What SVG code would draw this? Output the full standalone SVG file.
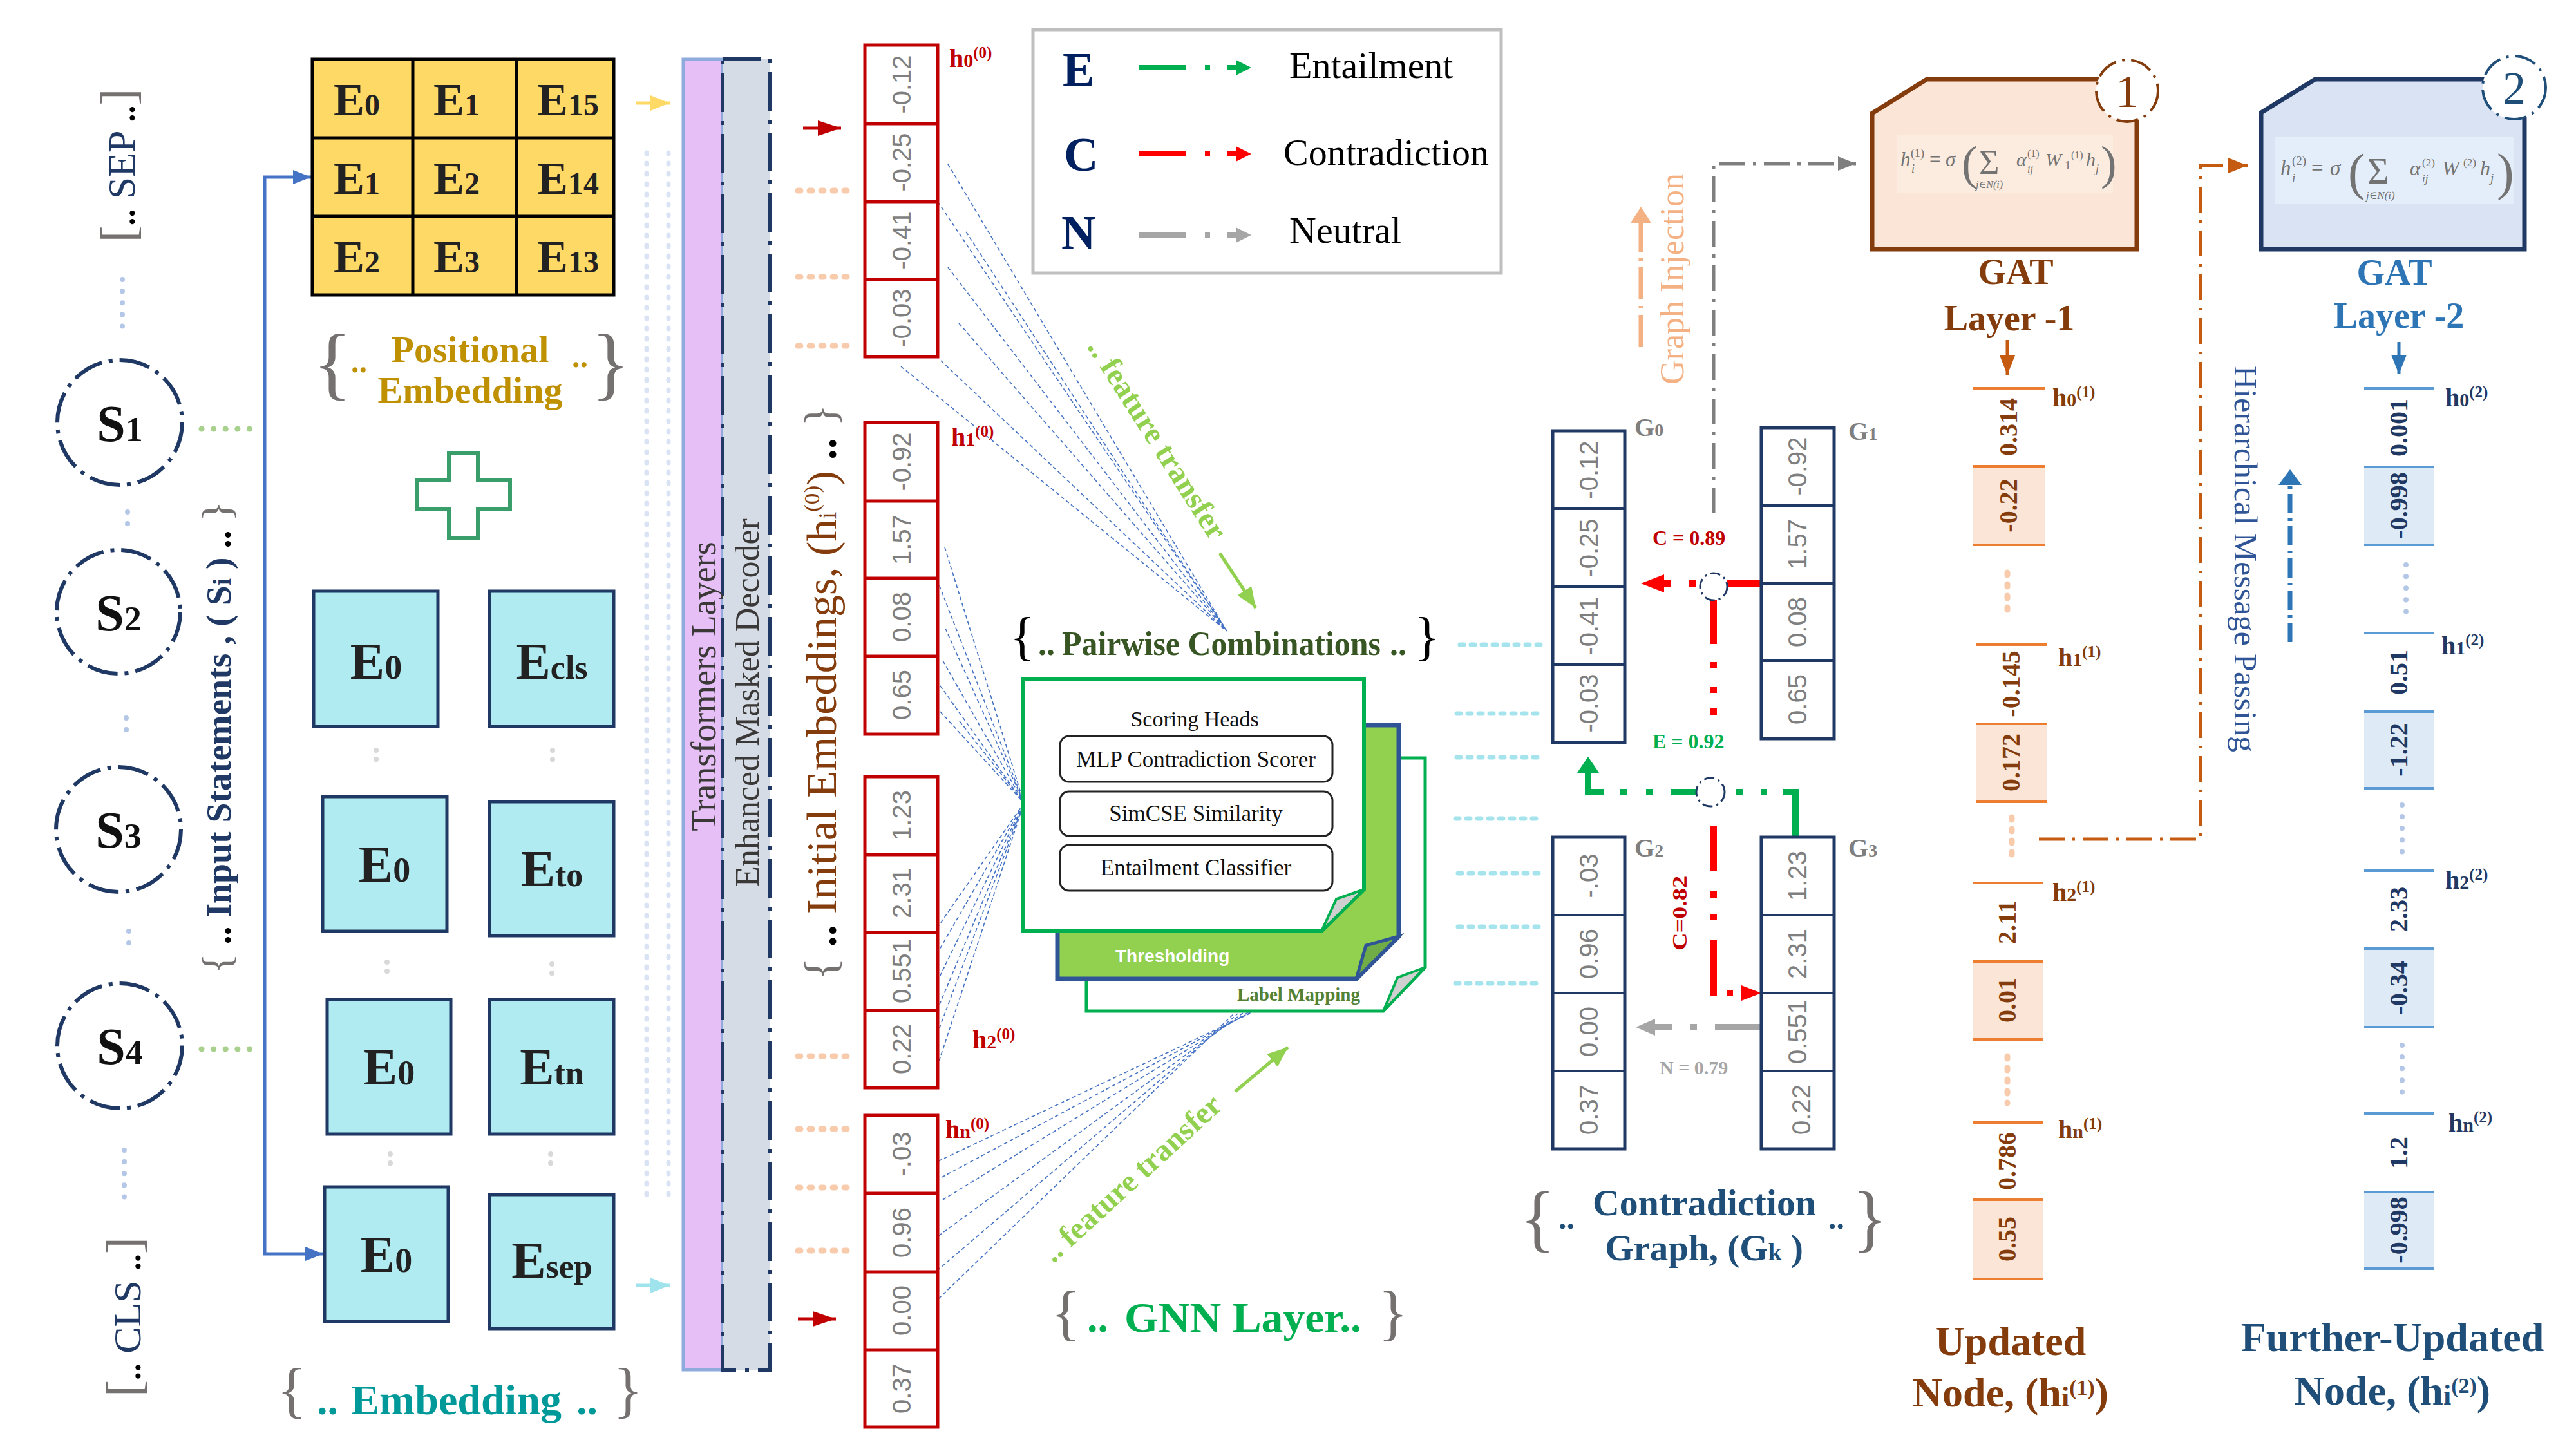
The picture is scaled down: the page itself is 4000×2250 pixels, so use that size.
<svg xmlns="http://www.w3.org/2000/svg" width="4000" height="2250" viewBox="0 0 4000 2250">
<style>
text{font-family:"Liberation Serif","DejaVu Serif",serif}
.b{font-weight:bold}
.num{font-family:"Liberation Sans","DejaVu Sans",sans-serif;fill:#7F7F7F;font-size:40px}
.br{fill:#767171;font-weight:normal}
.blk{fill:#000;font-weight:bold}
.snode{fill:#fff;stroke:#1F3864;stroke-width:6;stroke-dasharray:48 11 6 11}
.stxt{font-weight:bold;font-size:80px;fill:#111}
.ycell{font-weight:bold;font-size:72px;fill:#222}
.emb{fill:#AFEBF1;stroke:#1F3864;stroke-width:5}
.etxt{font-weight:bold;font-size:80px;fill:#222}
.rcell{fill:#fff;stroke:#C00000;stroke-width:5}
.gcell{fill:#fff;stroke:#1F3864;stroke-width:5}
.dv{fill:none;stroke:#B4C7E7;stroke-width:8;stroke-linecap:round;stroke-dasharray:0.1 18}
.dg{fill:none;stroke:#A9D18E;stroke-width:9;stroke-linecap:round;stroke-dasharray:0.1 18.5}
.dp{fill:none;stroke:#F8CBAD;stroke-width:9;stroke-linecap:round;stroke-dasharray:4 14}
.dc{fill:none;stroke:#A5E4EC;stroke-width:7;stroke-linecap:round;stroke-dasharray:6 11}
.dl{fill:none;stroke:#DAE3F3;stroke-width:7;stroke-linecap:round;stroke-dasharray:2 14}
.dgr{fill:none;stroke:#D9D9D9;stroke-width:8;stroke-linecap:round;stroke-dasharray:0.1 14}
.fan{fill:none;stroke:#4472C4;stroke-width:1.6;stroke-dasharray:6 4}
.hr{fill:#C00000;font-weight:bold}
.hb{fill:#843C0C;font-weight:bold}
.hn{fill:#1F3864;font-weight:bold}
.ol{stroke:#ED7D31;stroke-width:4}
.bl{stroke:#5B9BD5;stroke-width:4}
.vb{font-weight:bold;font-size:40px;fill:#843C0C}
.vn{font-weight:bold;font-size:40px;fill:#1F3864}
.gl{fill:#7F7F7F;font-weight:bold}
.fml{fill:#737373;font-style:italic}
.red{stroke:#FF0000;stroke-width:10;fill:none}
.grn{stroke:#00B050;stroke-width:10;fill:none}
.gry{stroke:#A6A6A6;stroke-width:10;fill:none}
</style>
<defs>
<marker id="mBlue" viewBox="0 0 10 10" refX="10" refY="5" markerWidth="28" markerHeight="22" markerUnits="userSpaceOnUse" orient="auto" preserveAspectRatio="none"><path d="M0,0 L10,5 L0,10 z" fill="#4472C4"/></marker>
<marker id="mYellow" viewBox="0 0 10 10" refX="10" refY="5" markerWidth="30" markerHeight="24" markerUnits="userSpaceOnUse" orient="auto" preserveAspectRatio="none"><path d="M0,0 L10,5 L0,10 z" fill="#FFD966"/></marker>
<marker id="mCyan" viewBox="0 0 10 10" refX="10" refY="5" markerWidth="30" markerHeight="24" markerUnits="userSpaceOnUse" orient="auto" preserveAspectRatio="none"><path d="M0,0 L10,5 L0,10 z" fill="#9FE3EC"/></marker>
<marker id="mRed" viewBox="0 0 10 10" refX="10" refY="5" markerWidth="36" markerHeight="24" markerUnits="userSpaceOnUse" orient="auto" preserveAspectRatio="none"><path d="M0,0 L10,5 L0,10 z" fill="#C00000"/></marker>
<marker id="mLGreen" viewBox="0 0 10 10" refX="10" refY="5" markerWidth="32" markerHeight="26" markerUnits="userSpaceOnUse" orient="auto" preserveAspectRatio="none"><path d="M0,0 L10,5 L0,10 z" fill="#92D050"/></marker>
<marker id="mOrange" viewBox="0 0 10 10" refX="10" refY="5" markerWidth="30" markerHeight="24" markerUnits="userSpaceOnUse" orient="auto" preserveAspectRatio="none"><path d="M0,0 L10,5 L0,10 z" fill="#C55A11"/></marker>
<marker id="mSteel" viewBox="0 0 10 10" refX="10" refY="5" markerWidth="30" markerHeight="24" markerUnits="userSpaceOnUse" orient="auto" preserveAspectRatio="none"><path d="M0,0 L10,5 L0,10 z" fill="#2E75B6"/></marker>
<marker id="mGray" viewBox="0 0 10 10" refX="10" refY="5" markerWidth="28" markerHeight="22" markerUnits="userSpaceOnUse" orient="auto" preserveAspectRatio="none"><path d="M0,0 L10,5 L0,10 z" fill="#7F7F7F"/></marker>
</defs>
<rect width="4000" height="2250" fill="#fff"/>

<!-- ===== connectors ===== -->
<g id="connectors">
  <line class="dv" x1="190" y1="434" x2="190" y2="510"/>
  <line class="dv" x1="198" y1="795" x2="198" y2="815"/>
  <line class="dv" x1="196" y1="1115" x2="196" y2="1138"/>
  <line class="dv" x1="200" y1="1446" x2="200" y2="1470"/>
  <line class="dv" x1="193" y1="1786" x2="193" y2="1862"/>
  <line class="dg" x1="313" y1="666" x2="390" y2="666"/>
  <line class="dg" x1="313" y1="1629" x2="390" y2="1629"/>
  <path d="M411,1100 V275 H483" fill="none" stroke="#4472C4" stroke-width="5" marker-end="url(#mBlue)"/>
  <path d="M411,1100 V1947 H502" fill="none" stroke="#4472C4" stroke-width="5" marker-end="url(#mBlue)"/>
  <line class="dgr" x1="584" y1="1165" x2="584" y2="1187"/>
  <line class="dgr" x1="858" y1="1165" x2="858" y2="1187"/>
  <line class="dgr" x1="601" y1="1494" x2="601" y2="1516"/>
  <line class="dgr" x1="857" y1="1497" x2="857" y2="1519"/>
  <line class="dgr" x1="606" y1="1792" x2="606" y2="1814"/>
  <line class="dgr" x1="855" y1="1792" x2="855" y2="1814"/>
  <line class="dl" x1="1004" y1="237" x2="1004" y2="1862"/>
  <line class="dl" x1="1038" y1="237" x2="1038" y2="1862"/>
  <line x1="987" y1="160" x2="1040" y2="160" stroke="#FFD966" stroke-width="5" marker-end="url(#mYellow)"/>
  <line x1="987" y1="1996" x2="1040" y2="1996" stroke="#9FE3EC" stroke-width="5" marker-end="url(#mCyan)"/>
  <line x1="1247" y1="199" x2="1306" y2="199" stroke="#C00000" stroke-width="5" marker-end="url(#mRed)"/>
  <line x1="1239" y1="2048" x2="1298" y2="2048" stroke="#C00000" stroke-width="5" marker-end="url(#mRed)"/>
  <line class="dp" x1="1239" y1="296" x2="1315" y2="296"/>
  <line class="dp" x1="1239" y1="430" x2="1315" y2="430"/>
  <line class="dp" x1="1239" y1="537" x2="1315" y2="537"/>
  <line class="dp" x1="1239" y1="1640" x2="1315" y2="1640"/>
  <line class="dp" x1="1239" y1="1753" x2="1315" y2="1753"/>
  <line class="dp" x1="1239" y1="1844" x2="1315" y2="1844"/>
  <line class="dp" x1="1239" y1="1942" x2="1315" y2="1942"/>
  <path class="fan" d="M1472,255 L1905,980 M1456,313 L1905,980 M1500,360 L1905,980 M1472,415 L1905,980 M1489,502 L1905,980 M1461,560 L1905,980 M1399,569 L1905,980"/>
  <path class="fan" d="M1467,850 L1590,1247 M1455,900 L1590,1247 M1468,976 L1590,1247 M1464,1026 L1590,1247 M1460,1065 L1590,1247 M1460,1105 L1590,1247 M1490,1120 L1590,1247 M1455,1441 L1590,1247 M1455,1481 L1590,1247 M1455,1525 L1590,1247 M1455,1569 L1590,1247 M1455,1606 L1590,1247 M1455,1657 L1590,1247"/>
  <path class="fan" d="M1457,1803 L1953,1568 M1453,1833 L1945,1570 M1464,1863 L1938,1572 M1449,1925 L1930,1573 M1455,1973 L1922,1574 M1457,2017 L1915,1575"/>
  <line x1="1894" y1="859" x2="1950" y2="944" stroke="#92D050" stroke-width="5" marker-end="url(#mLGreen)"/>
  <line x1="1918" y1="1695" x2="2000" y2="1626" stroke="#92D050" stroke-width="5" marker-end="url(#mLGreen)"/>
  <line class="dc" x1="2267" y1="1001" x2="2397" y2="1001"/>
  <line class="dc" x1="2262" y1="1108" x2="2392" y2="1108"/>
  <line class="dc" x1="2262" y1="1176" x2="2392" y2="1176"/>
  <line class="dc" x1="2260" y1="1271" x2="2390" y2="1271"/>
  <line class="dc" x1="2264" y1="1356" x2="2394" y2="1356"/>
  <line class="dc" x1="2264" y1="1439" x2="2394" y2="1439"/>
  <line class="dc" x1="2260" y1="1527" x2="2390" y2="1527"/>
  <path d="M2661,797 V254 H2882" fill="none" stroke="#7F7F7F" stroke-width="5" stroke-dasharray="40 12 5 12" marker-end="url(#mGray)"/>
  <line x1="2548" y1="539" x2="2548" y2="345" stroke="#F4B183" stroke-width="7" stroke-dasharray="50 10 4 10"/>
  <polygon points="2532,346 2564,346 2548,321" fill="#F4B183"/>
  <line class="red" x1="2681" y1="906" x2="2735" y2="906"/>
  <line class="red" x1="2623" y1="906" x2="2633" y2="906"/>
  <line class="red" x1="2580" y1="906" x2="2595" y2="906"/>
  <polygon points="2548,906 2584,892 2584,920" fill="#FF0000"/>
  <line class="red" x1="2661" y1="930" x2="2661" y2="1000" stroke-width="12"/>
  <line class="red" x1="2661" y1="1028" x2="2661" y2="1038" stroke-width="12"/>
  <line class="red" x1="2661" y1="1066" x2="2661" y2="1076" stroke-width="12"/>
  <line class="red" x1="2661" y1="1100" x2="2661" y2="1110" stroke-width="12"/>
  <line class="red" x1="2661" y1="1283" x2="2661" y2="1353" stroke-width="12"/>
  <line class="red" x1="2661" y1="1384" x2="2661" y2="1394" stroke-width="12"/>
  <line class="red" x1="2661" y1="1419" x2="2661" y2="1429" stroke-width="12"/>
  <line class="red" x1="2661" y1="1459" x2="2661" y2="1547" stroke-width="12"/>
  <line class="red" x1="2681" y1="1542" x2="2691" y2="1542"/>
  <polygon points="2735,1542 2704,1530 2704,1554" fill="#FF0000"/>
  <line class="grn" x1="2788" y1="1302" x2="2788" y2="1225" stroke-width="12"/>
  <line class="grn" x1="2794" y1="1230" x2="2768" y2="1230"/>
  <line class="grn" x1="2734" y1="1230" x2="2744" y2="1230"/>
  <line class="grn" x1="2696" y1="1230" x2="2706" y2="1230"/>
  <line class="grn" x1="2594" y1="1230" x2="2640" y2="1230"/>
  <line class="grn" x1="2556" y1="1230" x2="2566" y2="1230"/>
  <line class="grn" x1="2516" y1="1230" x2="2526" y2="1230"/>
  <path class="grn" d="M2490,1230 H2466 V1198"/>
  <polygon points="2449,1200 2483,1200 2466,1175" fill="#00B050"/>
  <line class="gry" x1="2663" y1="1595" x2="2737" y2="1595"/>
  <line class="gry" x1="2625" y1="1595" x2="2635" y2="1595"/>
  <line class="gry" x1="2566" y1="1595" x2="2596" y2="1595"/>
  <polygon points="2540,1595 2570,1582 2570,1608" fill="#A6A6A6"/>
  <circle cx="2661" cy="911" r="21" fill="#fff" stroke="#1F3864" stroke-width="3" stroke-dasharray="16 6 3 6"/>
  <circle cx="2656" cy="1230" r="22" fill="#fff" stroke="#1F3864" stroke-width="3" stroke-dasharray="16 6 3 6"/>
  <path d="M3166,1303 H3417 V257 H3490" fill="none" stroke="#C55A11" stroke-width="5" stroke-dasharray="40 12 4 12" marker-end="url(#mOrange)"/>
  <line x1="3117" y1="528" x2="3117" y2="582" stroke="#C55A11" stroke-width="5" marker-end="url(#mOrange)"/>
  <line x1="3725" y1="531" x2="3725" y2="581" stroke="#2E75B6" stroke-width="5" marker-end="url(#mSteel)"/>
  <line x1="3556" y1="997" x2="3556" y2="752" stroke="#2E75B6" stroke-width="7" stroke-dasharray="30 8 4 8"/>
  <polygon points="3538,753 3574,753 3556,729" fill="#2E75B6"/>
  <line x1="3117" y1="889" x2="3117" y2="961" class="dp" stroke-dasharray="0.1 18"/>
  <line x1="3124" y1="1269" x2="3124" y2="1339" class="dp" stroke-dasharray="0.1 18"/>
  <line x1="3117" y1="1640" x2="3117" y2="1713" class="dp" stroke-dasharray="0.1 18"/>
  <line x1="3736" y1="877" x2="3736" y2="954" class="dv"/>
  <line x1="3730" y1="1250" x2="3730" y2="1327" class="dv"/>
  <line x1="3730" y1="1623" x2="3730" y2="1700" class="dv"/>
</g>

<!-- ===== input statements ===== -->
<g id="sep-token">
  <text transform="translate(209,257) rotate(-90)" text-anchor="middle" font-size="60" textLength="239" lengthAdjust="spacingAndGlyphs"><tspan class="br" font-size="76">[</tspan><tspan class="blk" font-size="50">..</tspan><tspan fill="#1F3864"> SEP </tspan><tspan class="blk" font-size="50">..</tspan><tspan class="br" font-size="76">]</tspan></text>
</g>
<g id="s1"><circle cx="186" cy="656" r="97" class="snode"/><text x="186" y="685" text-anchor="middle" class="stxt">S<tspan font-size="54">1</tspan></text></g>
<g id="s2"><circle cx="184" cy="950" r="96" class="snode"/><text x="184" y="979" text-anchor="middle" class="stxt">S<tspan font-size="54">2</tspan></text></g>
<g id="s3"><circle cx="184" cy="1288" r="97" class="snode"/><text x="184" y="1316" text-anchor="middle" class="stxt">S<tspan font-size="54">3</tspan></text></g>
<g id="s4"><circle cx="186" cy="1624" r="97" class="snode"/><text x="186" y="1652" text-anchor="middle" class="stxt">S<tspan font-size="54">4</tspan></text></g>
<g id="cls-token">
  <text transform="translate(218,2045) rotate(-90)" text-anchor="middle" font-size="60" textLength="248" lengthAdjust="spacingAndGlyphs"><tspan class="br" font-size="76">[</tspan><tspan class="blk" font-size="50">..</tspan><tspan fill="#1F3864"> CLS </tspan><tspan class="blk" font-size="50">..</tspan><tspan class="br" font-size="76">]</tspan></text>
</g>
<g id="input-label">
  <text transform="translate(358,1145) rotate(-90)" text-anchor="middle" font-size="54" class="b" textLength="734" lengthAdjust="spacingAndGlyphs"><tspan class="br" font-size="64">{</tspan><tspan fill="#000"> .. </tspan><tspan fill="#1F3864">Input Statements , ( S<tspan font-size="40">i</tspan> ) </tspan><tspan fill="#000">.. </tspan><tspan class="br" font-size="64">}</tspan></text>
</g>

<!-- ===== positional embedding ===== -->
<g id="positional-grid">
  <rect x="485" y="92" width="468" height="366" fill="#FFD966" stroke="#000" stroke-width="5"/>
  <path d="M641,92 V458 M802,92 V458 M485,214 H953 M485,336 H953" stroke="#000" stroke-width="5"/>
  <text x="518" y="179" class="ycell">E<tspan font-size="48">0</tspan></text>
  <text x="673" y="179" class="ycell">E<tspan font-size="48">1</tspan></text>
  <text x="834" y="179" class="ycell">E<tspan font-size="48">15</tspan></text>
  <text x="518" y="301" class="ycell">E<tspan font-size="48">1</tspan></text>
  <text x="673" y="301" class="ycell">E<tspan font-size="48">2</tspan></text>
  <text x="834" y="301" class="ycell">E<tspan font-size="48">14</tspan></text>
  <text x="518" y="423" class="ycell">E<tspan font-size="48">2</tspan></text>
  <text x="673" y="423" class="ycell">E<tspan font-size="48">3</tspan></text>
  <text x="834" y="423" class="ycell">E<tspan font-size="48">13</tspan></text>
</g>
<g id="positional-label">
  <text x="486" y="605" class="br" font-size="125">{</text>
  <text x="918" y="605" class="br" font-size="125">}</text>
  <text x="545" y="578" font-size="50" class="b" fill="#BF9000">..</text>
  <text x="888" y="570" font-size="50" class="b" fill="#BF9000">..</text>
  <text x="730" y="562" text-anchor="middle" font-size="58" class="b" fill="#BF9000">Positional</text>
  <text x="730" y="625" text-anchor="middle" font-size="58" class="b" fill="#BF9000">Embedding</text>
</g>
<g id="plus">
  <polygon points="697,703 742,703 742,746 792,746 792,790 742,790 742,836 697,836 697,790 647,790 647,746 697,746" fill="#fff" stroke="#3A9E6B" stroke-width="6"/>
</g>

<!-- ===== token embeddings ===== -->
<g id="emb-e0-a"><rect x="487" y="918" width="193" height="210" class="emb"/><text x="584" y="1054" text-anchor="middle" class="etxt">E<tspan font-size="54">0</tspan></text></g>
<g id="emb-ecls"><rect x="760" y="918" width="193" height="210" class="emb"/><text x="857" y="1054" text-anchor="middle" class="etxt">E<tspan font-size="52">cls</tspan></text></g>
<g id="emb-e0-b"><rect x="501" y="1237" width="193" height="209" class="emb"/><text x="597" y="1369" text-anchor="middle" class="etxt">E<tspan font-size="54">0</tspan></text></g>
<g id="emb-eto"><rect x="760" y="1245" width="193" height="208" class="emb"/><text x="857" y="1376" text-anchor="middle" class="etxt">E<tspan font-size="52">to</tspan></text></g>
<g id="emb-e0-c"><rect x="508" y="1552" width="192" height="209" class="emb"/><text x="604" y="1684" text-anchor="middle" class="etxt">E<tspan font-size="54">0</tspan></text></g>
<g id="emb-etn"><rect x="760" y="1552" width="193" height="209" class="emb"/><text x="857" y="1684" text-anchor="middle" class="etxt">E<tspan font-size="52">tn</tspan></text></g>
<g id="emb-e0-d"><rect x="504" y="1843" width="192" height="209" class="emb"/><text x="600" y="1975" text-anchor="middle" class="etxt">E<tspan font-size="54">0</tspan></text></g>
<g id="emb-esep"><rect x="760" y="1855" width="193" height="208" class="emb"/><text x="857" y="1984" text-anchor="middle" class="etxt">E<tspan font-size="52">sep</tspan></text></g>
<g id="embedding-label">
  <text x="430" y="2190" class="br" font-size="96">{</text>
  <text x="952" y="2190" class="br" font-size="96">}</text>
  <text x="492" y="2196" font-size="66" class="b" fill="#009999">..</text>
  <text x="545" y="2196" font-size="66" class="b" fill="#009999" textLength="327" lengthAdjust="spacingAndGlyphs">Embedding</text>
  <text x="895" y="2196" font-size="66" class="b" fill="#009999">..</text>
</g>

<!-- ===== transformer bar ===== -->
<g id="transformer">
  <rect x="1061" y="92" width="61" height="2035" fill="#E5BFF5" stroke="#8FAADC" stroke-width="5"/>
  <rect x="1122" y="92" width="74" height="2035" fill="#D6DCE5" stroke="#1F3864" stroke-width="6" stroke-dasharray="60 14 6 14"/>
  <text transform="translate(1111,1066) rotate(-90)" text-anchor="middle" font-size="54" fill="#3B3838">Transformers Layers</text>
  <text transform="translate(1178,1091) rotate(-90)" text-anchor="middle" font-size="52" fill="#3B3838">Enhanced Masked Decoder</text>
</g>

<!-- ===== initial embeddings ===== -->
<g id="init-label">
  <text transform="translate(1298,1075) rotate(-90)" text-anchor="middle" font-size="66" fill="#843C0C" textLength="894" lengthAdjust="spacingAndGlyphs"><tspan class="br" font-size="70">{</tspan><tspan class="blk"> .. </tspan><tspan>Initial Embeddings, (h<tspan font-size="40">i</tspan><tspan font-size="34" dy="-26">(0)</tspan><tspan dy="26">)</tspan></tspan><tspan class="blk"> .. </tspan><tspan class="br" font-size="70">}</tspan></text>
</g>
<g id="h0-0">
  <rect x="1343" y="70" width="113" height="484" class="rcell"/>
  <path d="M1343,192 H1456 M1343,313 H1456 M1343,434 H1456" stroke="#C00000" stroke-width="5"/>
  <text transform="translate(1400,131) rotate(-90)" x="0" y="14" text-anchor="middle" class="num">-0.12</text>
  <text transform="translate(1400,252) rotate(-90)" x="0" y="14" text-anchor="middle" class="num">-0.25</text>
  <text transform="translate(1400,373) rotate(-90)" x="0" y="14" text-anchor="middle" class="num">-0.41</text>
  <text transform="translate(1400,494) rotate(-90)" x="0" y="14" text-anchor="middle" class="num">-0.03</text>
  <text x="1474" y="104" class="hr" font-size="40">h<tspan font-size="30">0</tspan><tspan font-size="25" dy="-14">(0)</tspan></text>
</g>
<g id="h1-0">
  <rect x="1343" y="656" width="113" height="484" class="rcell"/>
  <path d="M1343,778 H1456 M1343,898 H1456 M1343,1019 H1456" stroke="#C00000" stroke-width="5"/>
  <text transform="translate(1400,717) rotate(-90)" x="0" y="14" text-anchor="middle" class="num">-0.92</text>
  <text transform="translate(1400,838) rotate(-90)" x="0" y="14" text-anchor="middle" class="num">1.57</text>
  <text transform="translate(1400,958) rotate(-90)" x="0" y="14" text-anchor="middle" class="num">0.08</text>
  <text transform="translate(1400,1079) rotate(-90)" x="0" y="14" text-anchor="middle" class="num">0.65</text>
  <text x="1477" y="692" class="hr" font-size="40">h<tspan font-size="30">1</tspan><tspan font-size="25" dy="-14">(0)</tspan></text>
</g>
<g id="h2-0">
  <rect x="1343" y="1206" width="113" height="483" class="rcell"/>
  <path d="M1343,1327 H1456 M1343,1448 H1456 M1343,1569 H1456" stroke="#C00000" stroke-width="5"/>
  <text transform="translate(1400,1266) rotate(-90)" x="0" y="14" text-anchor="middle" class="num">1.23</text>
  <text transform="translate(1400,1387) rotate(-90)" x="0" y="14" text-anchor="middle" class="num">2.31</text>
  <text transform="translate(1400,1508) rotate(-90)" x="0" y="14" text-anchor="middle" class="num">0.551</text>
  <text transform="translate(1400,1629) rotate(-90)" x="0" y="14" text-anchor="middle" class="num">0.22</text>
  <text x="1510" y="1628" class="hr" font-size="40">h<tspan font-size="30">2</tspan><tspan font-size="25" dy="-14">(0)</tspan></text>
</g>
<g id="hn-0">
  <rect x="1343" y="1732" width="113" height="484" class="rcell"/>
  <path d="M1343,1853 H1456 M1343,1975 H1456 M1343,2096 H1456" stroke="#C00000" stroke-width="5"/>
  <text transform="translate(1400,1792) rotate(-90)" x="0" y="14" text-anchor="middle" class="num">-.03</text>
  <text transform="translate(1400,1914) rotate(-90)" x="0" y="14" text-anchor="middle" class="num">0.96</text>
  <text transform="translate(1400,2035) rotate(-90)" x="0" y="14" text-anchor="middle" class="num">0.00</text>
  <text transform="translate(1400,2156) rotate(-90)" x="0" y="14" text-anchor="middle" class="num">0.37</text>
  <text x="1468" y="1767" class="hr" font-size="40">h<tspan font-size="30">n</tspan><tspan font-size="25" dy="-14">(0)</tspan></text>
</g>

<!-- ===== legend ===== -->
<g id="legend">
  <rect x="1604" y="46" width="727" height="378" fill="#fff" stroke="#BFBFBF" stroke-width="5"/>
  <text x="1650" y="133" font-size="74" class="b" fill="#002060">E</text>
  <text x="1652" y="265" font-size="74" class="b" fill="#002060">C</text>
  <text x="1648" y="386" font-size="74" class="b" fill="#002060">N</text>
  <line x1="1768" y1="105" x2="1842" y2="105" stroke="#00B050" stroke-width="8"/>
  <rect x="1871" y="101" width="8" height="8" fill="#00B050"/>
  <path d="M1906,101 H1919 V93 L1943,105 L1919,117 V109 H1906 z" fill="#00B050"/>
  <line x1="1768" y1="239" x2="1842" y2="239" stroke="#FF0000" stroke-width="8"/>
  <rect x="1871" y="235" width="8" height="8" fill="#FF0000"/>
  <path d="M1906,235 H1919 V227 L1943,239 L1919,251 V243 H1906 z" fill="#FF0000"/>
  <line x1="1768" y1="365" x2="1842" y2="365" stroke="#A6A6A6" stroke-width="8"/>
  <rect x="1871" y="361" width="8" height="8" fill="#A6A6A6"/>
  <path d="M1906,361 H1919 V353 L1943,365 L1919,377 V369 H1906 z" fill="#A6A6A6"/>
  <text x="2002" y="121" font-size="58" fill="#000">Entailment</text>
  <text x="1993" y="256" font-size="58" fill="#000">Contradiction</text>
  <text x="2002" y="377" font-size="58" fill="#000">Neutral</text>
</g>

<!-- ===== GNN layer ===== -->
<g id="feature-transfer-top">
  <text transform="translate(1784,690) rotate(57.5)" text-anchor="middle" font-size="48" class="b" fill="#92D050">.. feature transfer</text>
</g>
<g id="pairwise-label">
  <text x="1568" y="1016" font-size="82" fill="#000">{</text>
  <text x="2196" y="1016" font-size="82" fill="#000">}</text>
  <text x="1612" y="1017" font-size="52" class="b" fill="#375623">..</text>
  <text x="1649" y="1017" font-size="52" class="b" fill="#375623" textLength="495" lengthAdjust="spacingAndGlyphs">Pairwise Combinations</text>
  <text x="2158" y="1017" font-size="52" class="b" fill="#375623">..</text>
</g>
<g id="label-mapping">
  <polygon points="1687,1177 2213,1177 2213,1502 2148,1570 1687,1570" fill="#fff" stroke="#00B050" stroke-width="5"/>
  <polygon points="2148,1570 2170,1518 2213,1502" fill="#D0D0D0" stroke="#00B050" stroke-width="4"/>
  <text x="1921" y="1554" font-size="29" class="b" fill="#548235">Label Mapping</text>
</g>
<g id="thresholding">
  <polygon points="1642,1126 2172,1126 2172,1454 2106,1520 1642,1520" fill="#92D050" stroke="#2F5597" stroke-width="7"/>
  <polygon points="2106,1520 2121,1468 2172,1454" fill="#70AD47" stroke="#2F5597" stroke-width="5"/>
  <text x="1732" y="1494" font-size="28" font-weight="bold" fill="#fff" style="font-family:'Liberation Sans','DejaVu Sans',sans-serif">Thresholding</text>
</g>
<g id="scoring-heads">
  <polygon points="1589,1054 2118,1054 2118,1381 2052,1446 1589,1446" fill="#fff" stroke="#00B050" stroke-width="6"/>
  <polygon points="2052,1446 2075,1396 2118,1381" fill="#D0D0D0" stroke="#00B050" stroke-width="4"/>
  <text x="1855" y="1128" text-anchor="middle" font-size="34" fill="#111">Scoring Heads</text>
  <rect x="1646" y="1143" width="423" height="71" rx="14" fill="#fff" stroke="#222" stroke-width="3"/>
  <rect x="1646" y="1229" width="423" height="69" rx="14" fill="#fff" stroke="#222" stroke-width="3"/>
  <rect x="1646" y="1312" width="423" height="71" rx="14" fill="#fff" stroke="#222" stroke-width="3"/>
  <text x="1857" y="1191" text-anchor="middle" font-size="35" fill="#111">MLP Contradiction Scorer</text>
  <text x="1857" y="1275" text-anchor="middle" font-size="35" fill="#111">SimCSE Similarity</text>
  <text x="1857" y="1359" text-anchor="middle" font-size="35" fill="#111">Entailment Classifier</text>
</g>
<g id="feature-transfer-bottom">
  <text transform="translate(1768,1841) rotate(-42.5)" text-anchor="middle" font-size="48" class="b" fill="#92D050">.. feature transfer</text>
</g>
<g id="gnn-label">
  <text x="1632" y="2070" class="br" font-size="96">{</text>
  <text x="2140" y="2070" class="br" font-size="96">}</text>
  <text x="1688" y="2068" font-size="66" class="b" fill="#00B050">..</text>
  <text x="1746" y="2068" font-size="66" class="b" fill="#00B050" textLength="368" lengthAdjust="spacingAndGlyphs">GNN Layer..</text>
</g>

<!-- ===== contradiction graph ===== -->
<g id="graph-injection">
  <text transform="translate(2614,433) rotate(-90)" text-anchor="middle" font-size="52" fill="#F4B183">Graph Injection</text>
</g>
<g id="g0">
  <rect x="2411" y="669" width="112" height="484" class="gcell"/>
  <path d="M2411,790 H2523 M2411,911 H2523 M2411,1032 H2523" stroke="#1F3864" stroke-width="4"/>
  <text transform="translate(2467,730) rotate(-90)" x="0" y="14" text-anchor="middle" class="num">-0.12</text>
  <text transform="translate(2467,851) rotate(-90)" x="0" y="14" text-anchor="middle" class="num">-0.25</text>
  <text transform="translate(2467,972) rotate(-90)" x="0" y="14" text-anchor="middle" class="num">-0.41</text>
  <text transform="translate(2467,1092) rotate(-90)" x="0" y="14" text-anchor="middle" class="num">-0.03</text>
  <text x="2538" y="677" class="gl" font-size="40">G<tspan font-size="28">0</tspan></text>
</g>
<g id="g1">
  <rect x="2735" y="664" width="113" height="483" class="gcell"/>
  <path d="M2735,785 H2848 M2735,906 H2848 M2735,1026 H2848" stroke="#1F3864" stroke-width="4"/>
  <text transform="translate(2791,724) rotate(-90)" x="0" y="14" text-anchor="middle" class="num">-0.92</text>
  <text transform="translate(2791,845) rotate(-90)" x="0" y="14" text-anchor="middle" class="num">1.57</text>
  <text transform="translate(2791,966) rotate(-90)" x="0" y="14" text-anchor="middle" class="num">0.08</text>
  <text transform="translate(2791,1086) rotate(-90)" x="0" y="14" text-anchor="middle" class="num">0.65</text>
  <text x="2870" y="683" class="gl" font-size="40">G<tspan font-size="28">1</tspan></text>
</g>
<g id="g2">
  <rect x="2411" y="1300" width="112" height="484" class="gcell"/>
  <path d="M2411,1421 H2523 M2411,1542 H2523 M2411,1663 H2523" stroke="#1F3864" stroke-width="4"/>
  <text transform="translate(2467,1360) rotate(-90)" x="0" y="14" text-anchor="middle" class="num">-.03</text>
  <text transform="translate(2467,1481) rotate(-90)" x="0" y="14" text-anchor="middle" class="num">0.96</text>
  <text transform="translate(2467,1602) rotate(-90)" x="0" y="14" text-anchor="middle" class="num">0.00</text>
  <text transform="translate(2467,1723) rotate(-90)" x="0" y="14" text-anchor="middle" class="num">0.37</text>
  <text x="2538" y="1330" class="gl" font-size="40">G<tspan font-size="28">2</tspan></text>
</g>
<g id="g3">
  <rect x="2735" y="1300" width="113" height="484" class="gcell"/>
  <path d="M2735,1421 H2848 M2735,1542 H2848 M2735,1663 H2848" stroke="#1F3864" stroke-width="4"/>
  <text transform="translate(2791,1360) rotate(-90)" x="0" y="14" text-anchor="middle" class="num">1.23</text>
  <text transform="translate(2791,1481) rotate(-90)" x="0" y="14" text-anchor="middle" class="num">2.31</text>
  <text transform="translate(2791,1602) rotate(-90)" x="0" y="14" text-anchor="middle" class="num">0.551</text>
  <text transform="translate(2797,1723) rotate(-90)" x="0" y="14" text-anchor="middle" class="num">0.22</text>
  <text x="2870" y="1330" class="gl" font-size="40">G<tspan font-size="28">3</tspan></text>
</g>
<g id="edge-labels">
  <text x="2566" y="846" font-size="32" class="b" fill="#C00000">C = 0.89</text>
  <text x="2566" y="1162" font-size="32" class="b" fill="#00B050">E = 0.92</text>
  <text x="2577" y="1668" font-size="30" class="b" fill="#A6A6A6">N = 0.79</text>
  <text transform="translate(2619,1418) rotate(-90)" text-anchor="middle" font-size="32" class="b" fill="#C00000" textLength="116" lengthAdjust="spacingAndGlyphs">C=0.82</text>
</g>
<g id="graph-label">
  <text x="2360" y="1930" class="br" font-size="115">{</text>
  <text x="2876" y="1930" class="br" font-size="115">}</text>
  <text x="2420" y="1908" font-size="50" class="b" fill="#1F4E79">..</text>
  <text x="2839" y="1908" font-size="50" class="b" fill="#1F4E79">..</text>
  <text x="2473" y="1887" font-size="57" class="b" fill="#1F4E79" textLength="347" lengthAdjust="spacingAndGlyphs">Contradiction</text>
  <text x="2646" y="1957" text-anchor="middle" font-size="57" class="b" fill="#1F4E79">Graph, (G<tspan font-size="38">k</tspan> )</text>
</g>

<!-- ===== GAT layer 1 ===== -->
<g id="gat1">
  <polygon points="2907,176 2992,123 3318,123 3318,387 2907,387" fill="#FBE5D6" stroke="#843C0C" stroke-width="7"/>
  <rect x="2945" y="210" width="336" height="90" fill="#FCEBDF"/>
  <g class="fml" font-size="31">
    <text x="2951" y="258">h</text>
    <text x="2967" y="244" font-size="18" font-style="normal">(1)</text>
    <text x="2968" y="268" font-size="18">i</text>
    <text x="2996" y="258" font-style="normal">=</text>
    <text x="3021" y="258">σ</text>
    <text x="3046" y="278" font-size="74" font-style="normal">(</text>
    <text x="3073" y="270" font-size="54" font-style="normal">Σ</text>
    <text x="3068" y="292" font-size="16">j∈N(i)</text>
    <text x="3131" y="258" font-size="30">α</text>
    <text x="3148" y="244" font-size="16" font-style="normal">(1)</text>
    <text x="3148" y="268" font-size="16">ij</text>
    <text x="3176" y="258" font-size="30">W</text>
    <text x="3206" y="263" font-size="19" font-style="normal">1</text>
    <text x="3216" y="246" font-size="16" font-style="normal">(1)</text>
    <text x="3239" y="258" font-size="30">h</text>
    <text x="3254" y="268" font-size="18">j</text>
    <text x="3262" y="278" font-size="74" font-style="normal">)</text>
  </g>
  <circle cx="3303" cy="141" r="48" fill="#fff" stroke="#843C0C" stroke-width="4" stroke-dasharray="34 10 4 10"/>
  <text x="3303" y="166" text-anchor="middle" font-size="72" fill="#843C0C">1</text>
  <text x="3130" y="441" text-anchor="middle" font-size="56" class="b" fill="#843C0C">GAT</text>
  <text x="3120" y="513" text-anchor="middle" font-size="56" class="b" fill="#843C0C">Layer -1</text>
</g>
<g id="h0-1">
  <rect x="3063" y="724" width="112" height="122" fill="#FBE5D6"/>
  <path d="M3063,603 H3175 M3063,724 H3175 M3063,846 H3175" class="ol"/>
  <text transform="translate(3119,663) rotate(-90)" y="13" text-anchor="middle" class="vb">0.314</text>
  <text transform="translate(3119,785) rotate(-90)" y="13" text-anchor="middle" class="vb">-0.22</text>
  <text x="3187" y="631" class="hb" font-size="40">h<tspan font-size="30">0</tspan><tspan font-size="25" dy="-14">(1)</tspan></text>
</g>
<g id="h1-1">
  <rect x="3068" y="1124" width="110" height="121" fill="#FBE5D6"/>
  <path d="M3068,1001 H3178 M3068,1124 H3178 M3068,1245 H3178" class="ol"/>
  <text transform="translate(3123,1062) rotate(-90)" y="13" text-anchor="middle" class="vb">-0.145</text>
  <text transform="translate(3123,1184) rotate(-90)" y="13" text-anchor="middle" class="vb">0.172</text>
  <text x="3196" y="1034" class="hb" font-size="40">h<tspan font-size="30">1</tspan><tspan font-size="25" dy="-14">(1)</tspan></text>
</g>
<g id="h2-1">
  <rect x="3063" y="1493" width="110" height="121" fill="#FBE5D6"/>
  <path d="M3063,1371 H3173 M3063,1493 H3173 M3063,1614 H3173" class="ol"/>
  <text transform="translate(3117,1432) rotate(-90)" y="13" text-anchor="middle" class="vb">2.11</text>
  <text transform="translate(3117,1553) rotate(-90)" y="13" text-anchor="middle" class="vb">0.01</text>
  <text x="3187" y="1399" class="hb" font-size="40">h<tspan font-size="30">2</tspan><tspan font-size="25" dy="-14">(1)</tspan></text>
</g>
<g id="hn-1">
  <rect x="3063" y="1863" width="110" height="123" fill="#FBE5D6"/>
  <path d="M3063,1743 H3173 M3063,1863 H3173 M3063,1986 H3173" class="ol"/>
  <text transform="translate(3117,1803) rotate(-90)" y="13" text-anchor="middle" class="vb">0.786</text>
  <text transform="translate(3117,1924) rotate(-90)" y="13" text-anchor="middle" class="vb">0.55</text>
  <text x="3196" y="1767" class="hb" font-size="40">h<tspan font-size="30">n</tspan><tspan font-size="25" dy="-14">(1)</tspan></text>
</g>
<g id="updated-label">
  <text x="3122" y="2104" text-anchor="middle" font-size="64" class="b" fill="#843C0C">Updated</text>
  <text x="3122" y="2184" text-anchor="middle" font-size="64" class="b" fill="#843C0C">Node, (h<tspan font-size="44">i</tspan><tspan font-size="34" dy="-18">(1)</tspan><tspan dy="18">)</tspan></text>
</g>

<!-- ===== GAT layer 2 ===== -->
<g id="hier-label">
  <text transform="translate(3470,868) rotate(90)" text-anchor="middle" font-size="50" fill="#2F5597">Hierarchical Message Passing</text>
</g>
<g id="gat2">
  <polygon points="3511,175 3595,123 3920,123 3920,387 3511,387" fill="#DAE3F3" stroke="#1F3864" stroke-width="7"/>
  <rect x="3533" y="212" width="371" height="104" fill="#E4EEFA"/>
  <g class="fml" font-size="33">
    <text x="3541" y="272">h</text>
    <text x="3559" y="256" font-size="19" font-style="normal">(2)</text>
    <text x="3559" y="283" font-size="19">i</text>
    <text x="3589" y="272" font-style="normal">=</text>
    <text x="3618" y="272">σ</text>
    <text x="3646" y="294" font-size="80" font-style="normal">(</text>
    <text x="3676" y="285" font-size="58" font-style="normal">Σ</text>
    <text x="3674" y="309" font-size="17">j∈N(i)</text>
    <text x="3742" y="272" font-size="32">α</text>
    <text x="3761" y="258" font-size="17" font-style="normal">(2)</text>
    <text x="3761" y="283" font-size="17">ij</text>
    <text x="3792" y="272" font-size="32">W</text>
    <text x="3825" y="258" font-size="17" font-style="normal">(2)</text>
    <text x="3851" y="272" font-size="32">h</text>
    <text x="3867" y="283" font-size="19">j</text>
    <text x="3877" y="294" font-size="80" font-style="normal">)</text>
  </g>
  <circle cx="3904" cy="136" r="49" fill="#fff" stroke="#1F4E79" stroke-width="4" stroke-dasharray="34 10 4 10"/>
  <text x="3904" y="161" text-anchor="middle" font-size="72" fill="#1F4E79">2</text>
  <text x="3718" y="442" text-anchor="middle" font-size="56" class="b" fill="#2E75B6">GAT</text>
  <text x="3725" y="509" text-anchor="middle" font-size="56" class="b" fill="#2E75B6">Layer -2</text>
</g>
<g id="h0-2">
  <rect x="3671" y="725" width="109" height="121" fill="#DEEBF7"/>
  <path d="M3671,603 H3780 M3671,725 H3780 M3671,846 H3780" class="bl"/>
  <text transform="translate(3725,664) rotate(-90)" y="13" text-anchor="middle" class="vn">0.001</text>
  <text transform="translate(3725,785) rotate(-90)" y="13" text-anchor="middle" class="vn">-0.998</text>
  <text x="3797" y="631" class="hn" font-size="40">h<tspan font-size="30">0</tspan><tspan font-size="25" dy="-14">(2)</tspan></text>
</g>
<g id="h1-2">
  <rect x="3671" y="1105" width="109" height="119" fill="#DEEBF7"/>
  <path d="M3671,983 H3780 M3671,1105 H3780 M3671,1224 H3780" class="bl"/>
  <text transform="translate(3725,1044) rotate(-90)" y="13" text-anchor="middle" class="vn">0.51</text>
  <text transform="translate(3725,1164) rotate(-90)" y="13" text-anchor="middle" class="vn">-1.22</text>
  <text x="3791" y="1016" class="hn" font-size="40">h<tspan font-size="30">1</tspan><tspan font-size="25" dy="-14">(2)</tspan></text>
</g>
<g id="h2-2">
  <rect x="3671" y="1473" width="109" height="122" fill="#DEEBF7"/>
  <path d="M3671,1352 H3780 M3671,1473 H3780 M3671,1595 H3780" class="bl"/>
  <text transform="translate(3725,1412) rotate(-90)" y="13" text-anchor="middle" class="vn">2.33</text>
  <text transform="translate(3725,1534) rotate(-90)" y="13" text-anchor="middle" class="vn">-0.34</text>
  <text x="3797" y="1380" class="hn" font-size="40">h<tspan font-size="30">2</tspan><tspan font-size="25" dy="-14">(2)</tspan></text>
</g>
<g id="hn-2">
  <rect x="3671" y="1851" width="109" height="119" fill="#DEEBF7"/>
  <path d="M3671,1729 H3780 M3671,1851 H3780 M3671,1970 H3780" class="bl"/>
  <text transform="translate(3725,1790) rotate(-90)" y="13" text-anchor="middle" class="vn">1.2</text>
  <text transform="translate(3725,1910) rotate(-90)" y="13" text-anchor="middle" class="vn">-0.998</text>
  <text x="3802" y="1757" class="hn" font-size="40">h<tspan font-size="30">n</tspan><tspan font-size="25" dy="-14">(2)</tspan></text>
</g>
<g id="further-label">
  <text x="3715" y="2098" text-anchor="middle" font-size="64" class="b" fill="#1F4E79">Further-Updated</text>
  <text x="3715" y="2181" text-anchor="middle" font-size="64" class="b" fill="#1F4E79">Node, (h<tspan font-size="44">i</tspan><tspan font-size="34" dy="-18">(2)</tspan><tspan dy="18">)</tspan></text>
</g>
</svg>
